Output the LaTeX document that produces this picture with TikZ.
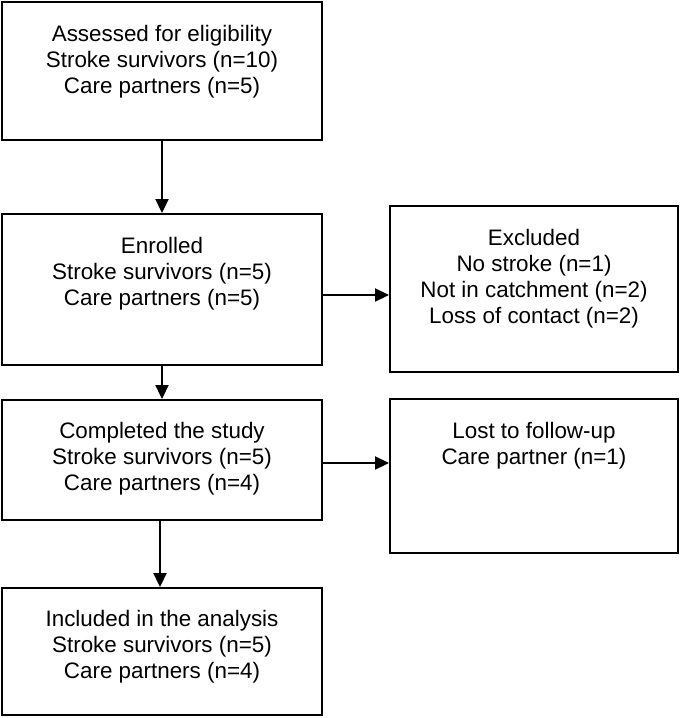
\documentclass[tikz,border=0pt]{standalone}
\usepackage{fontspec}
\setmainfont{Liberation Sans}
\usetikzlibrary{arrows.meta}
\begin{document}
\begin{tikzpicture}[x=1pt,y=-1pt,
  box/.style={draw, rectangle, line width=1.9pt, inner sep=0pt},
  txt/.style={anchor=north, align=center, inner sep=0pt, font=\fontsize{22.4}{26}\selectfont},
  arr/.style={line width=1.9pt, -{Triangle[length=14pt,width=13pt]}}]
\useasboundingbox (0,0) rectangle (680,718);
% boxes
\node[box, minimum width=320pt, minimum height=138pt] (b1) at (162,71) {};
\node[box, minimum width=320pt, minimum height=151pt] (b2) at (162,289.5) {};
\node[box, minimum width=288pt, minimum height=166pt] (ex) at (534,289) {};
\node[box, minimum width=320pt, minimum height=120pt] (b3) at (162,460) {};
\node[box, minimum width=288pt, minimum height=154pt] (lost) at (534,476) {};
\node[box, minimum width=320pt, minimum height=127pt] (b4) at (162,651.5) {};
% texts
\node[txt] (b1t) at (162,25) {Assessed for eligibility\\Stroke survivors (n=10)\\Care partners (n=5)};
\node[txt] (b2t) at (162,237) {Enrolled\\Stroke survivors (n=5)\\Care partners (n=5)};
\node[txt] (ext) at (534,229) {Excluded\\No stroke (n=1)\\Not in catchment (n=2)\\Loss of contact (n=2)};
\node[txt] (b3t) at (162,422) {Completed the study\\Stroke survivors (n=5)\\Care partners (n=4)};
\node[txt] (lostt) at (534,422) {Lost to follow-up\\Care partner (n=1)};
\node[txt] (b4t) at (162,610) {Included in the analysis\\Stroke survivors (n=5)\\Care partners (n=4)};
% connectors
\draw[arr] (b1.south) -- (b2.north);
\draw[arr] (b2.south) -- (b3.north);
\draw[arr] ([xshift=-2pt]b3.south) -- ([xshift=-2pt]b3.south |- b4.north);
\draw[arr] ([yshift=-5.5pt]b2.east) -- ([yshift=-5.5pt]b2.east -| ex.west);
\draw[arr] ([yshift=-3pt]b3.east) -- ([yshift=-3pt]b3.east -| lost.west);
\end{tikzpicture}
\end{document}
